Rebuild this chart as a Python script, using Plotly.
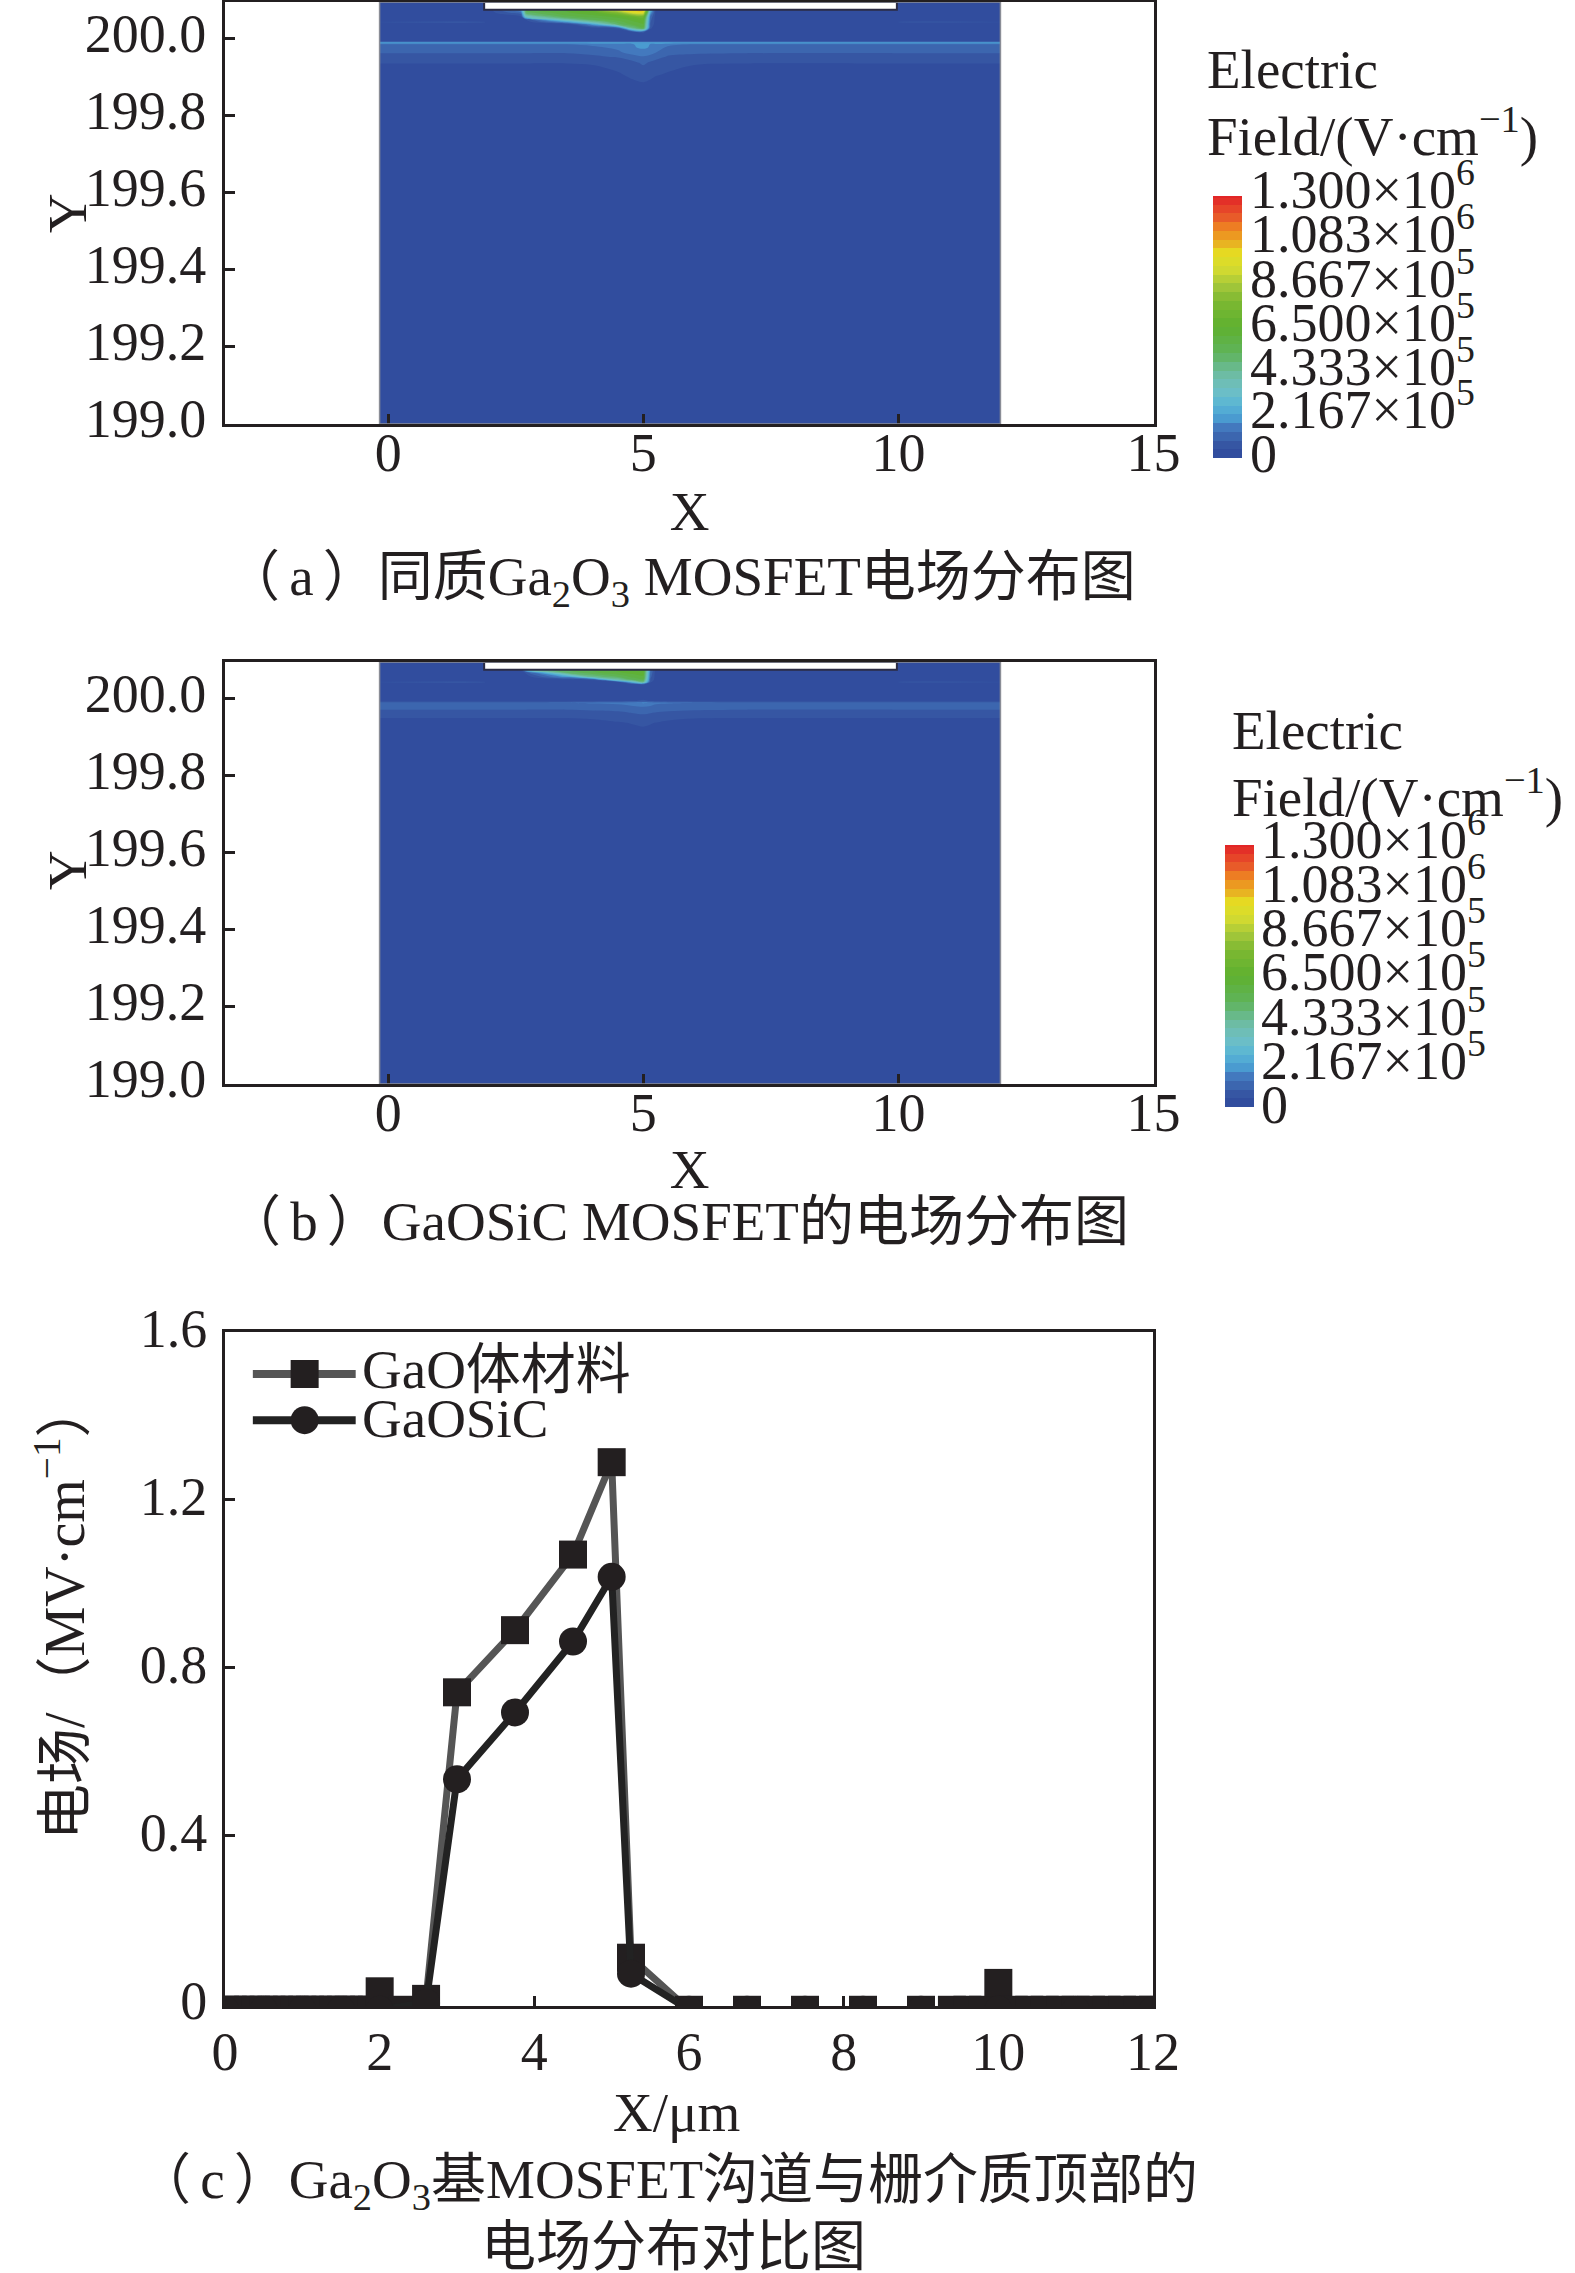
import plotly.graph_objects as go

W, H = 1575, 2273
SERIF = "Liberation Serif, Noto Sans CJK SC, serif"
INK = "#231f20"
FS = 55

# field maps, x in um, y in um, z in 1e4 V/cm
field_x = [-0.17, 1.9, 1.95, 2.6, 2.7, 3.5, 4, 4.5, 4.8, 5, 5.14, 5.25, 5.5, 6, 7, 9.9, 10, 12]
field_y = [199.0, 199.868, 199.888, 199.908, 199.938, 199.953, 199.965, 199.978, 199.986, 199.99, 199.995,
           200.008, 200.018, 200.028, 200.038, 200.044, 200.05, 200.058, 200.068, 200.078, 200.1]

field_a = [
    [1, 1, 1, 1, 1, 1, 1, 1, 1, 1, 1, 1, 1, 1, 1, 1, 1, 1],
    [2, 2, 2, 2, 2, 2, 2, 2, 2, 2, 2, 2, 2, 2, 2, 2, 2, 2],
    [2, 2, 2, 2, 2, 2, 2, 3, 4, 4.4, 4, 3.4, 3, 2, 2, 2, 2, 2],
    [3, 3, 3, 3, 3, 3, 3.2, 4, 5, 5.6, 5, 4.6, 4, 3.2, 3, 3, 3, 3],
    [4.4, 4.4, 4.4, 4.4, 4.4, 4.4, 4.6, 5.5, 7.5, 9.5, 8, 7, 5.5, 4.6, 4.4, 4.4, 4.4, 4.4],
    [7, 7, 7, 7, 7, 7, 7.5, 9, 11, 12.5, 11, 10, 8, 7.2, 7, 7, 7, 7],
    [9, 9, 9, 9, 9, 9, 10, 12, 15, 15.5, 15, 13, 10, 9.4, 9, 9, 9, 9],
    [11, 11, 11, 11, 11, 11, 12, 14, 17, 18, 17, 15, 12, 11, 11, 11, 11, 11],
    [13, 13, 13, 13, 13, 13, 14, 15, 17, 19, 17, 16, 14, 13, 13, 13, 13, 13],
    [22, 22, 22, 22, 22, 22, 22, 22, 22, 22, 22, 22, 22, 22, 22, 22, 22, 22],
    [3, 3, 3, 3, 3, 3, 3, 3, 3, 3, 3, 3, 3, 3, 3, 3, 3, 3],
    [2, 2, 2, 2, 2, 2, 2, 2, 2, 2, 2, 2, 2, 2, 2, 2, 2, 2],
    [2, 2, 2, 2, 2, 2, 2, 2, 4, 5, 2, 2, 2, 2, 2, 2, 2, 2],
    [2, 2, 2, 2, 2, 2, 2, 5, 45, 55, 5, 2, 2, 2, 2, 2, 2, 2],
    [2, 2, 2, 2, 2, 2, 20, 50, 58, 60, 8, 2, 2, 2, 2, 2, 2, 2],
    [4.6, 4.6, 2, 2, 2, 20, 40, 54, 60, 62, 9, 2, 2, 2, 2, 2, 4.6, 4.6],
    [2, 2, 2, 2, 4, 40, 52, 58, 62, 65, 10, 2, 2, 2, 2, 2, 2, 2],
    [2, 2, 2, 3, 35, 55, 58, 62, 70, 72, 12, 2, 2, 2, 2, 2, 2, 2],
    [2, 2, 2, 12, 50, 60, 64, 78, 95, 95, 20, 2, 2, 2, 2, 2, 2, 2],
    [2, 2, 2, 20, 55, 62, 72, 100, 112, 112, 30, 2, 2, 2, 2, 2, 2, 2],
    [2, 2, 2, 20, 55, 62, 72, 100, 112, 112, 30, 2, 2, 2, 2, 2, 2, 2],
]

field_b = [
    [1, 1, 1, 1, 1, 1, 1, 1, 1, 1, 1, 1, 1, 1, 1, 1, 1, 1],
    [2, 2, 2, 2, 2, 2, 2, 2, 2, 2, 2, 2, 2, 2, 2, 2, 2, 2],
    [2, 2, 2, 2, 2, 2, 2, 2, 2, 2, 2, 2, 2, 2, 2, 2, 2, 2],
    [2.5, 2.5, 2.5, 2.5, 2.5, 2.5, 2.5, 2.6, 2.8, 3, 2.8, 2.6, 2.5, 2.5, 2.5, 2.5, 2.5, 2.5],
    [3, 3, 3, 3, 3, 3, 3.2, 4, 4.6, 5, 4.6, 4.2, 3.5, 3, 3, 3, 3, 3],
    [4.6, 4.6, 4.6, 4.6, 4.6, 4.6, 5, 6, 7, 7.5, 7, 6.5, 5.5, 4.8, 4.6, 4.6, 4.6, 4.6],
    [7, 7, 7, 7, 7, 7, 7.5, 8, 9, 9.5, 9, 8.5, 8, 7.2, 7, 7, 7, 7],
    [10, 10, 10, 10, 10, 10, 10.5, 11, 12, 12.5, 12, 11.5, 11, 10.5, 10, 10, 10, 10],
    [11, 11, 11, 11, 11, 11, 12, 13, 14, 15, 14, 13, 12, 11, 11, 11, 11, 11],
    [11, 11, 11, 11, 11, 13, 14, 15, 17, 18, 17, 15, 14, 13, 11, 11, 11, 11],
    [3, 3, 3, 3, 3, 3, 3, 3, 4, 5, 4, 3, 3, 3, 3, 3, 3, 3],
    [2, 2, 2, 2, 2, 2, 2, 2, 2, 2, 2, 2, 2, 2, 2, 2, 2, 2],
    [2, 2, 2, 2, 2, 2, 2, 2, 2, 2, 2, 2, 2, 2, 2, 2, 2, 2],
    [2, 2, 2, 2, 2, 2, 2, 2, 2, 2, 2, 2, 2, 2, 2, 2, 2, 2],
    [2, 2, 2, 2, 2, 2, 2, 2, 3, 5, 2, 2, 2, 2, 2, 2, 2, 2],
    [4.6, 4.6, 2, 2, 2, 2, 2, 4, 30, 45, 5, 2, 2, 2, 2, 2, 4.6, 4.6],
    [2, 2, 2, 2, 2, 2, 5, 40, 52, 55, 8, 2, 2, 2, 2, 2, 2, 2],
    [2, 2, 2, 2, 2, 20, 45, 52, 58, 60, 10, 2, 2, 2, 2, 2, 2, 2],
    [2, 2, 2, 2, 5, 48, 55, 60, 62, 62, 12, 2, 2, 2, 2, 2, 2, 2],
    [2, 2, 2, 8, 35, 55, 58, 62, 65, 65, 15, 2, 2, 2, 2, 2, 2, 2],
    [2, 2, 2, 8, 35, 55, 58, 62, 65, 65, 15, 2, 2, 2, 2, 2, 2, 2],
]

gate_x = [1.88, 9.97]
field_edge_x = [-0.17, 12]

level_labels = ["1.300×10<sup>6</sup>", "1.083×10<sup>6</sup>", "8.667×10<sup>5</sup>", "6.500×10<sup>5</sup>",
                "4.333×10<sup>5</sup>", "2.167×10<sup>5</sup>", "0"]

# line profiles
bulk_x = [0, 0.1, 0.2, 0.3, 0.4, 0.5, 0.6, 0.7, 0.8, 0.9, 1, 1.1, 1.2, 1.3, 1.4, 1.5, 1.6, 1.7, 1.8, 1.9,
          2, 2.3, 2.6, 3, 3.75, 4.5, 5, 5.25, 6, 6.75, 7.5, 8.25, 9, 9.4, 9.6, 9.8, 10,
          10.2, 10.4, 10.6, 10.8, 11, 11.2, 11.4, 11.6, 11.8, 12]
bulk_y = [-0.014, -0.014, -0.014, -0.014, -0.014, -0.014, -0.014, -0.014, -0.014, -0.014, -0.014, -0.014,
          -0.014, -0.014, -0.014, -0.014, -0.014, -0.014, -0.014, -0.014, 0.03, -0.014, 0.012, 0.742, 0.89,
          1.07, 1.29, 0.11, -0.014, -0.014, -0.014, -0.014, -0.014, -0.014, -0.014, -0.014, 0.05, -0.014,
          -0.014, -0.014, -0.014, -0.014, -0.014, -0.014, -0.014, -0.014, -0.014]
sic_x = [0, 0.5, 1, 1.5, 2, 2.6, 3, 3.75, 4.5, 5, 5.25, 6, 6.75, 7.5, 8.25, 9, 10, 11, 12]
sic_y = [-0.014, -0.014, -0.014, -0.014, -0.014, 0.003, 0.535, 0.694, 0.863, 1.017, 0.072, -0.014, -0.014,
         -0.014, -0.014, -0.014, -0.014, -0.014, -0.014]

key_x = [0.36, 1.03, 1.69]
key_bulk_y = [1.5, 1.5, 1.5]
key_sic_y = [1.39, 1.39, 1.39]
key_marker = [0, 28, 0]

field_colors = [
    [0.00, "#2f4a9d"], [0.04, "#34519f"], [0.07, "#3a60aa"], [0.11, "#4172ba"], [0.15, "#4a9bd0"],
    [0.20, "#58b5d6"], [0.26, "#6fc0c4"], [0.33, "#6cbb9c"], [0.40, "#5fb35a"], [0.50, "#5fb12f"],
    [0.60, "#7db832"], [0.66, "#a6c83a"], [0.72, "#d2da30"], [0.78, "#e6dd22"], [0.82, "#e8b022"],
    [0.87, "#ef8a20"], [0.92, "#e8582a"], [1.00, "#e22527"],
]


def px(x):
    return x / W


def py(y):
    return 1 - y / H


def field_trace(z, xa, ya, bar_x, bar_top):
    return go.Contour(
        x=field_x, y=field_y, z=z, xaxis=xa, yaxis=ya,
        zmin=0, zmax=130, colorscale=field_colors,
        contours=dict(coloring="fill", start=0, end=130, size=130 / 30, showlines=False),
        line_width=0,
        colorbar=dict(
            x=px(bar_x), xanchor="left", y=py(bar_top), yanchor="top",
            lenmode="pixels", len=262, thicknessmode="pixels", thickness=29,
            xpad=0, ypad=0, outlinewidth=0, showticklabels=False, ticks="",
        ),
    )


fig = go.Figure()
fig.add_trace(field_trace(field_a, "x", "y", 1213, 196))
fig.add_trace(field_trace(field_b, "x2", "y2", 1225, 845))

# bottom panel
for xs, ys, symbol, color, xa in [
    (bulk_x, bulk_y, "square", "#555555", "x3"),
    (sic_x, sic_y, "circle", "#222222", "x3"),
]:
    fig.add_trace(go.Scatter(
        x=xs, y=ys, xaxis=xa, yaxis="y3", mode="lines+markers",
        line=dict(color=color, width=7),
        marker=dict(symbol=symbol, size=28, color=INK),
        showlegend=False,
    ))
for ys, symbol, color in [(key_bulk_y, "square", "#555555"), (key_sic_y, "circle", "#222222")]:
    fig.add_trace(go.Scatter(
        x=key_x, y=ys, xaxis="x3", yaxis="y3", mode="lines+markers",
        line=dict(color=color, width=8),
        marker=dict(symbol=symbol, size=key_marker, color=INK, line_width=0, opacity=1),
        showlegend=False,
    ))

axis_style = dict(
    showline=True, linecolor=INK, linewidth=3, mirror=True, showgrid=False, zeroline=False,
    ticks="inside", ticklen=10, tickwidth=3, tickcolor=INK,
    tickfont=dict(family=SERIF, size=54, color=INK),
)
title_font = dict(family=SERIF, size=FS, color=INK)

field_xticks = [0, 5, 10, 15]
field_yticks = [199.0, 199.2, 199.4, 199.6, 199.8, 200.0]
field_yticktext = ["199.0", "199.2", "199.4", "199.6", "199.8", "200.0"]
line_xticks = [0, 2, 4, 6, 8, 10, 12]
line_yticks = [0, 0.4, 0.8, 1.2, 1.6]
line_yticktext = ["0", "0.4", "0.8", "1.2", "1.6"]
field_xrange = [-3.2, 15.01]
field_yrange = [199, 200.096]

fig.update_layout(
    width=W, height=H, margin=dict(l=0, r=0, t=0, b=0, autoexpand=False),
    paper_bgcolor="white", plot_bgcolor="white", showlegend=False,
    xaxis=dict(domain=[px(225), px(1154)], range=field_xrange, anchor="y", tickvals=field_xticks,
               ticklabelstandoff=-21, title=dict(text="X", font=title_font, standoff=10), **axis_style),
    yaxis=dict(domain=[py(424), py(2)], range=field_yrange, anchor="x", tickvals=field_yticks,
               ticktext=field_yticktext, ticklabelstandoff=5, ticklabelshift=-6, **axis_style),
    xaxis2=dict(domain=[px(225), px(1154)], range=field_xrange, anchor="y2", tickvals=field_xticks,
                ticklabelstandoff=-21, title=dict(text="X", font=title_font, standoff=8), **axis_style),
    yaxis2=dict(domain=[py(1084), py(662)], range=field_yrange, anchor="x2", tickvals=field_yticks,
                ticktext=field_yticktext, ticklabelstandoff=5, ticklabelshift=-6, **axis_style),
    xaxis3=dict(domain=[px(225), px(1153)], range=[0, 12], anchor="y3", tickvals=line_xticks,
                ticklabelstandoff=-4, **axis_style),
    yaxis3=dict(domain=[py(2006), py(1332)], range=[-0.005, 1.6], anchor="x3", tickvals=line_yticks,
                ticktext=line_yticktext, ticklabelstandoff=4, ticklabelshift=-4, **axis_style),
)

# gate cut-outs and the outline of the simulated region
for xa, ya in [("x", "y"), ("x2", "y2")]:
    fig.add_shape(type="rect", xref=xa, yref=ya, x0=gate_x[0], x1=gate_x[1], y0=200.076, y1=field_yrange[1],
                  fillcolor="white", line=dict(color="#2b2b44", width=2), layer="above")
    fig.add_shape(type="rect", xref=xa, yref=ya, x0=field_edge_x[0], x1=field_edge_x[1], y0=199,
                  y1=field_yrange[1], fillcolor="rgba(0,0,0,0)", line=dict(color="#8a8d96", width=1.5),
                  layer="above")


def note(x, y, text, anchor="left", angle=0, size=FS):
    fig.add_annotation(xref="paper", yref="paper", x=px(x), y=py(y), text=text, showarrow=False,
                       xanchor=anchor, yanchor="middle", textangle=angle, borderpad=0,
                       font=dict(family=SERIF, size=size, color=INK))


note(1206, 69, "Electric")
note(1206, 133, "Field/(V·cm<sup>−1</sup>)")
note(1231, 730, "Electric")
note(1231, 793, "Field/(V·cm<sup>−1</sup>)")
for i, label in enumerate(level_labels):
    shift = 0 if label == "0" else -4
    note(1249, 190 + i * 44 + shift, label, size=54)
    note(1260, 839 + i * 44.3 + shift, label, size=54)

note(67, 213, "Y", "center", -90)
note(67, 870, "Y", "center", -90)
note(680, 580, "（\u2006a\u2006）同质Ga<sub>2</sub>O<sub>3</sub> MOSFET电场分布图", "center")
note(677, 1221, "（\u2006b\u2006）GaOSiC MOSFET的电场分布图", "center")
note(667, 2183, "（\u2006c\u2006）Ga<sub>2</sub>O<sub>3</sub>基MOSFET沟道与栅介质顶部的", "center")
note(673, 2246, "电场分布对比图", "center")
note(676, 2112, "X/μm", "center")
note(60, 1611, "电场/（MV·cm<sup>−1</sup>）", "center", -90, 56)
note(361, 1369, "GaO体材料")
note(361, 1418, "GaOSiC")

fig.write_html("out.html", post_script="document.body.style.margin='0';", config=dict(displayModeBar=False))
